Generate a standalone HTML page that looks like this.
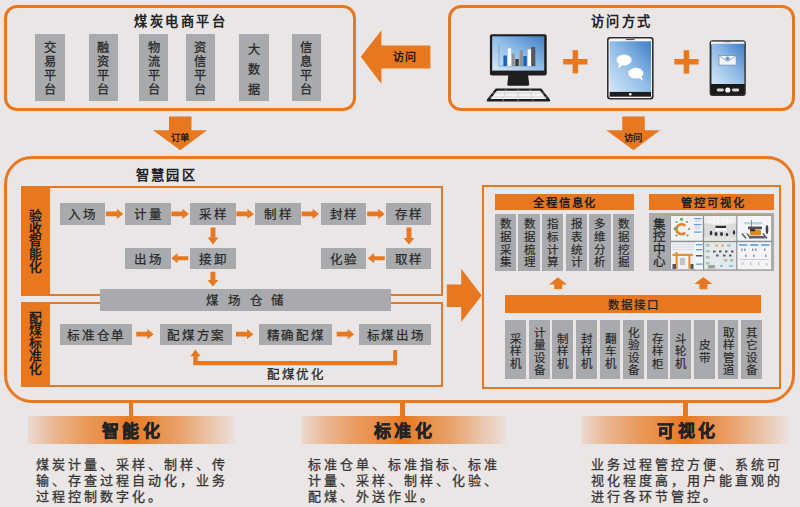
<!DOCTYPE html>
<html lang="zh-CN">
<head>
<meta charset="utf-8">
<style>
html,body{margin:0;padding:0;}
body{width:800px;height:507px;overflow:hidden;background:#ebe6e6;font-family:"Liberation Sans",sans-serif;color:#2a2a2a;position:relative;}
.a{position:absolute;box-sizing:border-box;}
.ob{position:absolute;box-sizing:border-box;border:3.5px solid #e8781f;}
.sb{position:absolute;box-sizing:border-box;border:2.5px solid #e8781f;}
.g{position:absolute;background:#a9aaad;}
.og{position:absolute;background:#e8781f;}
.vt{position:absolute;-webkit-text-stroke:0.2px #2a2a2a;text-align:center;font-size:13px;line-height:14px;color:#2a2a2a;}
.fb{position:absolute;-webkit-text-stroke:0.25px #2a2a2a;box-sizing:border-box;background:#a9aaad;text-align:center;font-size:12.5px;letter-spacing:1.8px;padding-left:1.8px;color:#2a2a2a;}
.fb4{letter-spacing:1.8px;padding-left:1.8px;}
.tt{position:absolute;font-size:13.2px;font-weight:bold;letter-spacing:2.6px;line-height:16px;color:#222;white-space:nowrap;}
svg{position:absolute;left:0;top:0;}
.ban{position:absolute;height:27.5px;background:linear-gradient(90deg,rgba(232,120,31,0.1) 0%,rgba(232,120,31,0.42) 12%,rgba(232,120,31,0.7) 28%,rgba(232,120,31,0.85) 42%,rgba(232,120,31,1) 50%,rgba(232,120,31,0.85) 58%,rgba(232,120,31,0.6) 74%,rgba(232,120,31,0.3) 88%,rgba(232,120,31,0.05) 100%);}
.bt{position:absolute;-webkit-text-stroke:0.5px #222;font-size:17px;font-weight:bold;letter-spacing:3.5px;line-height:20px;color:#222;white-space:nowrap;}
.desc{position:absolute;-webkit-text-stroke:0.3px #363636;font-size:13px;letter-spacing:3.05px;line-height:15.8px;color:#363636;white-space:nowrap;}
</style>
</head>
<body>

<!-- Box 1: 煤炭电商平台 -->
<div class="ob" style="left:4px;top:4.5px;width:351.5px;height:106.5px;border-radius:13px;"></div>
<div class="tt" style="left:134px;top:14px;">煤炭电商平台</div>
<div class="g" style="left:35.4px;top:33.75px;width:29.2px;height:67.4px;"></div>
<div class="g" style="left:88.5px;top:33.75px;width:29px;height:67.4px;"></div>
<div class="g" style="left:139.4px;top:33.75px;width:29px;height:67.4px;"></div>
<div class="g" style="left:185.8px;top:33.75px;width:29.2px;height:67.4px;"></div>
<div class="g" style="left:239.3px;top:33.75px;width:29.4px;height:67.4px;"></div>
<div class="g" style="left:291.8px;top:33.75px;width:29.2px;height:67.4px;"></div>
<div class="vt" style="left:35.4px;top:40.7px;width:29.2px;font-size:12.2px;line-height:14.2px;-webkit-text-stroke:0.3px #2a2a2a;">交<br>易<br>平<br>台</div>
<div class="vt" style="left:88.5px;top:40.7px;width:29px;font-size:12.2px;line-height:14.2px;-webkit-text-stroke:0.3px #2a2a2a;">融<br>资<br>平<br>台</div>
<div class="vt" style="left:139.4px;top:40.7px;width:29px;font-size:12.2px;line-height:14.2px;-webkit-text-stroke:0.3px #2a2a2a;">物<br>流<br>平<br>台</div>
<div class="vt" style="left:185.8px;top:40.7px;width:29.2px;font-size:12.2px;line-height:14.2px;-webkit-text-stroke:0.3px #2a2a2a;">资<br>信<br>平<br>台</div>
<div class="vt" style="left:239.3px;top:40px;width:29.4px;font-size:12.2px;line-height:20px;-webkit-text-stroke:0.3px #2a2a2a;">大<br>数<br>据</div>
<div class="vt" style="left:291.8px;top:40.7px;width:29.2px;font-size:12.2px;line-height:14.2px;-webkit-text-stroke:0.3px #2a2a2a;">信<br>息<br>平<br>台</div>

<!-- Box 2: 访问方式 -->
<div class="ob" style="left:448.4px;top:4.5px;width:347.1px;height:106.5px;border-radius:13px;"></div>
<div class="tt" style="left:591px;top:14px;letter-spacing:2.3px;">访问方式</div>

<!-- arrows & icons SVG layer -->
<svg width="800" height="507" viewBox="0 0 800 507">
  <!-- left arrow 访问 -->
  <polygon fill="#e8781f" points="360.8,56.8 381.4,30.3 381.4,45.4 430.4,45.4 430.4,68.6 381.4,68.6 381.4,84"/>
  <!-- down arrow 订单 -->
  <polygon fill="#e8781f" points="169,116.5 191.5,116.5 191.5,130.25 207,130.25 180.25,150.25 153,130.25 169,130.25"/>
  <!-- down arrow 访问 -->
  <polygon fill="#e8781f" points="622.25,116.5 644.75,116.5 644.75,130.25 660,130.25 633.5,150.25 606.25,130.25 622.25,130.25"/>
  <!-- plus signs -->
  <rect fill="#e8781f" x="563.2" y="59" width="24.3" height="5.5"/>
  <rect fill="#e8781f" x="572.6" y="50.2" width="5.5" height="23.1"/>
  <rect fill="#e8781f" x="674.3" y="59" width="24.3" height="5.5"/>
  <rect fill="#e8781f" x="683.7" y="50.2" width="5.5" height="23.4"/>
</svg>

<div class="a" style="left:392.5px;top:50px;font-size:11px;font-weight:bold;line-height:14px;color:#2a1a10;letter-spacing:1.2px;">访问</div>
<div class="a" style="left:171px;top:132.3px;font-size:9.4px;font-weight:bold;line-height:12px;color:#2a1a10;letter-spacing:0px;">订单</div>
<div class="a" style="left:624px;top:132.3px;font-size:9.4px;font-weight:bold;line-height:12px;color:#2a1a10;letter-spacing:0px;">访问</div>


<!-- icons -->
<svg width="800" height="507" viewBox="0 0 800 507">
  <defs>
    <linearGradient id="scr" x1="0" y1="1" x2="1" y2="0">
      <stop offset="0" stop-color="#d6e8f7"/>
      <stop offset="0.55" stop-color="#8ab8e6"/>
      <stop offset="1" stop-color="#3f7dc4"/>
    </linearGradient>
  </defs>
  <!-- monitor -->
  <rect x="489.9" y="34.2" width="56.8" height="41.2" rx="2" fill="#1e1e1e"/>
  <rect x="492.2" y="36.3" width="52" height="34.3" fill="url(#scr)"/>
  <path d="M508.4,75 L528,75 L529.2,84 Q529.3,85.8 527.5,85.8 L509,85.8 Q507.2,85.8 507.3,84 Z" fill="#1e1e1e"/>
  <line x1="499" y1="45" x2="499" y2="66" stroke="#7a8fa8" stroke-width="0.6"/>
  <line x1="499" y1="66" x2="537" y2="66" stroke="#7a8fa8" stroke-width="0.6"/>
  <rect x="503.4" y="55.5" width="3.5" height="10.5" fill="#1a66b3"/>
  <rect x="507.8" y="48.4" width="3.4" height="17.6" fill="#ffffff"/>
  <rect x="511.7" y="53.7" width="3" height="12.3" fill="#8f9297"/>
  <rect x="515.3" y="59" width="3.5" height="7" fill="#3d4045"/>
  <rect x="519.7" y="50.2" width="3.2" height="15.8" fill="#8f9297"/>
  <rect x="523.3" y="56" width="3.5" height="10" fill="#1a66b3"/>
  <rect x="527.7" y="49.3" width="3.5" height="16.7" fill="#ffffff"/>
  <rect x="531.2" y="47" width="4.1" height="19" fill="#55585d"/>
  <polygon points="496.4,89.6 540.6,89.6 549,100.3 487.9,100.3" fill="#f4f4f4" stroke="#1e1e1e" stroke-width="2.4" stroke-linejoin="round"/>
  <g stroke="#b9bcc0" stroke-width="0.6">
    <line x1="492" y1="93" x2="545" y2="93"/><line x1="490" y1="97" x2="547" y2="97"/>
    <line x1="506" y1="89" x2="503" y2="101"/><line x1="518" y1="89" x2="518" y2="101"/><line x1="530" y1="89" x2="533" y2="101"/>
  </g>
  <!-- tablet -->
  <rect x="607" y="37" width="46.6" height="62.5" rx="3" fill="#2e2e2e"/>
  <rect x="608.6" y="38.6" width="43.4" height="59.3" rx="1.8" fill="#f7f7f7"/>
  <rect x="609.6" y="41.3" width="41.4" height="50.6" fill="url(#scr)"/>
  <rect x="609.6" y="91.9" width="41.4" height="4.8" fill="#1e1e1e"/>
  <circle cx="630.3" cy="94.3" r="1.3" fill="#fff"/>
  <rect x="626" y="38.9" width="8.5" height="1.2" fill="#555"/>
  <ellipse cx="624.1" cy="60" rx="7.6" ry="5.4" fill="#fff"/>
  <polygon points="619,63.5 623.5,64.8 618,68.2" fill="#fff"/>
  <ellipse cx="635.8" cy="73.2" rx="7.6" ry="5.4" fill="#fff"/>
  <polygon points="637.5,77 641.5,76.3 643,81" fill="#fff"/>
  <!-- phone -->
  <rect x="709.6" y="40.2" width="36.2" height="55.7" rx="3" fill="#2e2e2e"/>
  <rect x="711" y="41.6" width="33.4" height="3" fill="#f2f2f2"/>
  <rect x="711.5" y="43.8" width="32.9" height="40.2" fill="url(#scr)"/>
  <rect x="711" y="84" width="33.4" height="10.5" fill="#1a1a1a"/>
  <rect x="716.7" y="88.6" width="7.1" height="2.8" rx="1.4" fill="#d8d8d8"/>
  <rect x="732" y="88.6" width="7.2" height="2.8" rx="1.4" fill="#d8d8d8"/>
  <circle cx="727.8" cy="90" r="2.6" fill="#fff"/>
  <rect x="724" y="41.2" width="7" height="1" fill="#666"/>
  <rect x="719" y="55.6" width="17.1" height="9.5" fill="#f4f6f8" stroke="#6f8aa6" stroke-width="0.7"/>
  <polyline points="719.3,55.9 727.5,61.5 735.8,55.9" fill="none" stroke="#6f8aa6" stroke-width="0.7"/>
  <circle cx="727.5" cy="58.5" r="2" fill="#5a9bd8"/>
</svg>

<!-- Big box 智慧园区 -->
<div class="ob" style="left:3.5px;top:156px;width:791.5px;height:247px;border-radius:28px;"></div>
<div class="tt" style="left:136px;top:168px;letter-spacing:2.2px;">智慧园区</div>

<!-- sub box 1 -->
<div class="sb" style="left:21.3px;top:186.3px;width:422.1px;height:109.5px;"></div>
<div class="og" style="left:21.3px;top:186.3px;width:28.9px;height:109.5px;"></div>
<div class="vt" style="left:21.3px;top:209.8px;width:28.9px;font-weight:bold;font-size:12.8px;line-height:12.75px;-webkit-text-stroke:0;color:#1e1e1e;">验<br>收<br>智<br>能<br>化</div>
<!-- sub box 2 -->
<div class="sb" style="left:21.3px;top:302px;width:422.1px;height:85px;"></div>
<div class="og" style="left:21.3px;top:302px;width:28.9px;height:85px;"></div>
<div class="vt" style="left:21.3px;top:311.6px;width:28.9px;font-weight:bold;font-size:12.8px;line-height:12.75px;-webkit-text-stroke:0;color:#1e1e1e;">配<br>煤<br>标<br>准<br>化</div>

<!-- flow row 1 -->
<div class="fb" style="left:59.5px;top:203px;width:45.5px;height:21.5px;line-height:24.9px;">入场</div>
<div class="fb" style="left:125px;top:203px;width:45.5px;height:21.5px;line-height:24.9px;">计量</div>
<div class="fb" style="left:190px;top:203px;width:45.5px;height:21.5px;line-height:24.9px;">采样</div>
<div class="fb" style="left:255.2px;top:203px;width:45.5px;height:21.5px;line-height:24.9px;">制样</div>
<div class="fb" style="left:320.8px;top:203px;width:45.5px;height:21.5px;line-height:24.9px;">封样</div>
<div class="fb" style="left:385.7px;top:203px;width:45.5px;height:21.5px;line-height:24.9px;">存样</div>
<div class="fb" style="left:125px;top:247.5px;width:45.5px;height:21.3px;line-height:24.7px;">出场</div>
<div class="fb" style="left:190px;top:247.5px;width:45.5px;height:21.3px;line-height:24.7px;">接卸</div>
<div class="fb" style="left:320.8px;top:247.5px;width:45.5px;height:21.3px;line-height:24.7px;">化验</div>
<div class="fb" style="left:385.7px;top:247.5px;width:45.5px;height:21.3px;line-height:24.7px;">取样</div>
<div class="fb" style="left:100.25px;top:289.4px;width:290.35px;height:21.2px;line-height:24.6px;letter-spacing:8.6px;padding-left:106.2px;text-align:left;">煤场仓储</div>

<!-- flow row 3 -->
<div class="fb fb4" style="left:59.5px;top:323.5px;width:72.5px;height:21.5px;line-height:24.9px;">标准仓单</div>
<div class="fb fb4" style="left:159.5px;top:323.5px;width:72.5px;height:21.5px;line-height:24.9px;">配煤方案</div>
<div class="fb fb4" style="left:258.9px;top:323.5px;width:72.9px;height:21.5px;line-height:24.9px;">精确配煤</div>
<div class="fb fb4" style="left:359.3px;top:323.5px;width:72px;height:21.5px;line-height:24.9px;">标煤出场</div>
<div class="a" style="left:267px;top:366.5px;font-size:12.5px;line-height:16px;letter-spacing:1.7px;color:#2a2a2a;-webkit-text-stroke:0.3px #2a2a2a;">配煤优化</div>

<!-- right sub box -->
<div class="a" style="left:482.3px;top:184.8px;width:299.2px;height:203.9px;border:2.8px solid #e8781f;"></div>
<div class="og" style="left:494.7px;top:193.7px;width:138.9px;height:16.7px;"></div>
<div class="tt" style="left:494.7px;top:195px;width:138.9px;text-align:center;font-size:11.3px;letter-spacing:1.9px;padding-left:1.9px;box-sizing:border-box;color:#1e1e1e;">全程信息化</div>
<div class="og" style="left:649.4px;top:193.7px;width:124.5px;height:16.7px;"></div>
<div class="tt" style="left:650.2px;top:195px;width:124.5px;text-align:center;font-size:11.3px;letter-spacing:1.9px;padding-left:1.9px;box-sizing:border-box;color:#1e1e1e;">管控可视化</div>
<div class="og" style="left:504.6px;top:295.3px;width:256.8px;height:18.1px;"></div>
<div class="a" style="left:504.6px;top:296.5px;width:256.8px;text-align:center;font-size:11.5px;line-height:17px;letter-spacing:2px;padding-left:2px;-webkit-text-stroke:0.25px #1e1e1e;color:#1e1e1e;">数据接口</div>
<div class="g" style="left:494.7px;top:213.8px;width:21.5px;height:57.1px;"></div>
<div class="vt" style="left:494.7px;top:218px;width:21.5px;font-size:11.5px;line-height:12.8px;">数<br>据<br>采<br>集</div>
<div class="g" style="left:518.3px;top:213.8px;width:21.5px;height:57.1px;"></div>
<div class="vt" style="left:518.3px;top:218px;width:21.5px;font-size:11.5px;line-height:12.8px;">数<br>据<br>梳<br>理</div>
<div class="g" style="left:541.9px;top:213.8px;width:21.5px;height:57.1px;"></div>
<div class="vt" style="left:541.9px;top:218px;width:21.5px;font-size:11.5px;line-height:12.8px;">指<br>标<br>计<br>算</div>
<div class="g" style="left:565.5px;top:213.8px;width:21.5px;height:57.1px;"></div>
<div class="vt" style="left:565.5px;top:218px;width:21.5px;font-size:11.5px;line-height:12.8px;">报<br>表<br>统<br>计</div>
<div class="g" style="left:589.1px;top:213.8px;width:21.5px;height:57.1px;"></div>
<div class="vt" style="left:589.1px;top:218px;width:21.5px;font-size:11.5px;line-height:12.8px;">多<br>维<br>分<br>析</div>
<div class="g" style="left:612.7px;top:213.8px;width:21.5px;height:57.1px;"></div>
<div class="vt" style="left:612.7px;top:218px;width:21.5px;font-size:11.5px;line-height:12.8px;">数<br>据<br>挖<br>掘</div>
<div class="g" style="left:649.4px;top:213.1px;width:124.5px;height:58px;"></div>
<div class="vt" style="left:649.4px;top:218.5px;width:20.8px;line-height:12.5px;font-size:12.5px;-webkit-text-stroke:0.3px #2a2a2a;">集<br>控<br>中<br>心</div>
<div class="g" style="left:505.20px;top:320.4px;width:20.8px;height:58.8px;"></div>
<div class="vt" style="left:505.20px;top:332.75px;width:20.8px;font-size:11.5px;line-height:12.5px;">采<br>样<br>机</div>
<div class="g" style="left:528.81px;top:320.4px;width:20.8px;height:58.8px;"></div>
<div class="vt" style="left:528.81px;top:326.50px;width:20.8px;font-size:11.5px;line-height:12.5px;">计<br>量<br>设<br>备</div>
<div class="g" style="left:552.42px;top:320.4px;width:20.8px;height:58.8px;"></div>
<div class="vt" style="left:552.42px;top:332.75px;width:20.8px;font-size:11.5px;line-height:12.5px;">制<br>样<br>机</div>
<div class="g" style="left:576.03px;top:320.4px;width:20.8px;height:58.8px;"></div>
<div class="vt" style="left:576.03px;top:332.75px;width:20.8px;font-size:11.5px;line-height:12.5px;">封<br>样<br>机</div>
<div class="g" style="left:599.64px;top:320.4px;width:20.8px;height:58.8px;"></div>
<div class="vt" style="left:599.64px;top:332.75px;width:20.8px;font-size:11.5px;line-height:12.5px;">翻<br>车<br>机</div>
<div class="g" style="left:623.25px;top:320.4px;width:20.8px;height:58.8px;"></div>
<div class="vt" style="left:623.25px;top:326.50px;width:20.8px;font-size:11.5px;line-height:12.5px;">化<br>验<br>设<br>备</div>
<div class="g" style="left:646.86px;top:320.4px;width:20.8px;height:58.8px;"></div>
<div class="vt" style="left:646.86px;top:332.75px;width:20.8px;font-size:11.5px;line-height:12.5px;">存<br>样<br>柜</div>
<div class="g" style="left:670.47px;top:320.4px;width:20.8px;height:58.8px;"></div>
<div class="vt" style="left:670.47px;top:332.75px;width:20.8px;font-size:11.5px;line-height:12.5px;">斗<br>轮<br>机</div>
<div class="g" style="left:694.08px;top:320.4px;width:20.8px;height:58.8px;"></div>
<div class="vt" style="left:694.08px;top:339.00px;width:20.8px;font-size:11.5px;line-height:12.5px;">皮<br>带</div>
<div class="g" style="left:717.69px;top:320.4px;width:20.8px;height:58.8px;"></div>
<div class="vt" style="left:717.69px;top:326.50px;width:20.8px;font-size:11.5px;line-height:12.5px;">取<br>样<br>管<br>道</div>
<div class="g" style="left:741.30px;top:320.4px;width:20.8px;height:58.8px;"></div>
<div class="vt" style="left:741.30px;top:326.50px;width:20.8px;font-size:11.5px;line-height:12.5px;">其<br>它<br>设<br>备</div>

<svg width="800" height="507" viewBox="0 0 800 507">
  <!-- big right arrow -->
  <polygon fill="#e8781f" points="446.8,284.5 461.2,284.5 461.2,268.7 481.7,295.4 461.2,322 461.2,307 446.8,307"/>
  <!-- small up arrows -->
  <polygon fill="#e8781f" points="557.9,277.3 567,284.4 562.2,284.4 562.2,289 554.2,289 554.2,284.4 549,284.4"/>
  <polygon fill="#e8781f" points="703.4,277 712.4,284.1 707.4,284.1 707.4,289.3 699.4,289.3 699.4,284.1 694.4,284.1"/>
</svg>
<svg width="800" height="507" viewBox="0 0 800 507">
<polygon fill="#e8781f" points="105.90,211.50 116.90,211.50 116.90,208.75 123.40,213.90 116.90,219.05 116.90,216.30 105.90,216.30"/>
<polygon fill="#e8781f" points="171.40,211.50 182.40,211.50 182.40,208.75 188.90,213.90 182.40,219.05 182.40,216.30 171.40,216.30"/>
<polygon fill="#e8781f" points="236.40,211.50 247.40,211.50 247.40,208.75 253.90,213.90 247.40,219.05 247.40,216.30 236.40,216.30"/>
<polygon fill="#e8781f" points="301.60,211.50 312.60,211.50 312.60,208.75 319.10,213.90 312.60,219.05 312.60,216.30 301.60,216.30"/>
<polygon fill="#e8781f" points="367.20,211.50 378.20,211.50 378.20,208.75 384.70,213.90 378.20,219.05 378.20,216.30 367.20,216.30"/>
<polygon fill="#e8781f" points="136.25,331.80 147.25,331.80 147.25,329.05 153.75,334.20 147.25,339.35 147.25,336.60 136.25,336.60"/>
<polygon fill="#e8781f" points="236.00,331.80 247.00,331.80 247.00,329.05 253.50,334.20 247.00,339.35 247.00,336.60 236.00,336.60"/>
<polygon fill="#e8781f" points="336.70,331.80 347.70,331.80 347.70,329.05 354.20,334.20 347.70,339.35 347.70,336.60 336.70,336.60"/>
<polygon fill="#e8781f" points="188.30,256.20 177.60,256.20 177.60,253.05 171.30,258.20 177.60,263.35 177.60,260.20 188.30,260.20"/>
<polygon fill="#e8781f" points="384.80,256.20 374.10,256.20 374.10,253.05 367.80,258.20 374.10,263.35 374.10,260.20 384.80,260.20"/>
<polygon fill="#e8781f" points="210.55,227.40 215.45,227.40 215.45,237.50 218.40,237.50 213.00,244.40 207.60,237.50 210.55,237.50"/>
<polygon fill="#e8781f" points="406.55,227.60 411.45,227.60 411.45,237.90 414.40,237.90 409.00,244.40 403.60,237.90 406.55,237.90"/>
<polygon fill="#e8781f" points="210.45,271.80 215.35,271.80 215.35,280.00 218.30,280.00 212.90,286.60 207.50,280.00 210.45,280.00"/>
<polygon fill="#e8781f" points="195.3,349.4 200.7,356.3 197.8,356.3 197.8,360.9 393.2,360.9 393.2,349.9 397.1,349.9 397.1,365.3 193.3,365.3 193.3,356.3 190.4,356.3"/>
</svg>

<!-- bottom section -->
<div class="og" style="left:128.6px;top:402px;width:4.6px;height:15px;"></div>
<div class="og" style="left:400.4px;top:402px;width:5px;height:15px;"></div>
<div class="og" style="left:683px;top:402px;width:4.6px;height:15px;"></div>
<div class="ban" style="left:27.5px;top:416.2px;width:207px;"></div>
<div class="ban" style="left:300.5px;top:416.2px;width:205.5px;"></div>
<div class="ban" style="left:581px;top:416.2px;width:207px;"></div>
<div class="bt" style="left:101.7px;top:422px;">智能化</div>
<div class="bt" style="left:373.7px;top:422px;">标准化</div>
<div class="bt" style="left:657.2px;top:422px;">可视化</div>
<div class="desc" style="left:35.5px;top:457px;">煤炭计量、采样、制样、传<br>输、存查过程自动化，业务<br>过程控制数字化。</div>
<div class="desc" style="left:307.8px;top:457px;">标准仓单、标准指标、标准<br>计量、采样、制样、化验、<br>配煤、外送作业。</div>
<div class="desc" style="left:590.8px;top:457px;">业务过程管控方便、系统可<br>视化程度高，用户能直观的<br>进行各环节管控。</div>

<!-- thumbnails -->
<svg width="800" height="507" viewBox="0 0 800 507">
  <defs><filter id="bl" x="-5%" y="-5%" width="110%" height="110%"><feGaussianBlur stdDeviation="0.35"/></filter></defs>
  <rect x="670.5" y="215.5" width="101.1" height="54.3" fill="#8e8f93"/>
  <g filter="url(#bl)">
  <!-- t1 -->
  <rect x="671" y="216" width="31.8" height="24.7" fill="#f1f2f2"/>
  <path d="M685.2,225.8 A5,5 0 1 0 685.2,232.6" fill="none" stroke="#e0822a" stroke-width="2.6"/>
  <circle cx="681.5" cy="219.3" r="1.5" fill="#52b050"/><circle cx="675" cy="228.8" r="1.5" fill="#52b050"/>
  <circle cx="676.5" cy="222" r="1.1" fill="#8a8a8a"/><circle cx="687" cy="222" r="1.1" fill="#8a8a8a"/>
  <circle cx="689" cy="229" r="1.1" fill="#8a8a8a"/><circle cx="676.5" cy="235.5" r="1.1" fill="#8a8a8a"/><circle cx="687.5" cy="235.5" r="1.1" fill="#8a8a8a"/>
  <rect x="694" y="218" width="7.5" height="1.2" fill="#5e9fdc"/><rect x="694" y="224" width="7.5" height="1.2" fill="#5e9fdc"/><rect x="694" y="231.5" width="7.5" height="1.2" fill="#5e9fdc"/>
  <rect x="695" y="220" width="5" height="2.5" fill="#dde"/><rect x="695" y="226" width="5" height="3.5" fill="#dde"/>
  <!-- t2 -->
  <rect x="704.2" y="216" width="32" height="24.7" fill="#d9dbdc"/>
  <path d="M704.2,216 H736.2 V223 Q720.2,227 704.2,223 Z" fill="#eceeef"/>
  <g stroke="#ffffff" stroke-width="0.9"><line x1="708" y1="216.5" x2="712" y2="222.5"/><line x1="713" y1="216.5" x2="715.5" y2="223"/><line x1="718" y1="216.5" x2="719" y2="223.5"/><line x1="723" y1="216.5" x2="722.5" y2="223.5"/><line x1="728" y1="216.5" x2="726" y2="223"/><line x1="733" y1="216.5" x2="729.5" y2="222.5"/></g>
  <rect x="715.5" y="225.8" width="10.5" height="2.2" fill="#2e2e2e"/>
  <rect x="715.5" y="228" width="10.5" height="3" fill="#f4f4f4"/>
  <ellipse cx="711" cy="233" rx="1.3" ry="2.2" fill="#333"/><ellipse cx="716" cy="234" rx="1.5" ry="2" fill="#333"/><ellipse cx="721.5" cy="234" rx="1.5" ry="2" fill="#333"/><ellipse cx="727" cy="234.5" rx="1.3" ry="1.6" fill="#333"/><ellipse cx="734" cy="232.5" rx="1.2" ry="2.2" fill="#333"/>
  <rect x="704.2" y="237" width="32" height="3.7" fill="#e6e4df"/>
  <!-- t3 -->
  <rect x="737.4" y="216" width="33.8" height="24.7" fill="#f4f5f6"/>
  <rect x="744.2" y="222" width="18" height="2.3" fill="#b8d4e4"/>
  <rect x="751" y="220" width="0.8" height="8" fill="#777"/>
  <rect x="748" y="226.6" width="14" height="2.6" fill="#4a4d55"/>
  <rect x="750" y="229.5" width="11" height="6" rx="1.5" fill="#e08a22"/>
  <rect x="750" y="229.2" width="5" height="2" fill="#222"/>
  <g stroke="#5a6070" stroke-width="1.6"><line x1="742" y1="233.5" x2="746" y2="238.5"/><line x1="747" y1="233.5" x2="751" y2="238.5"/><line x1="763" y1="233.5" x2="767" y2="238.5"/></g>
  <rect x="749" y="236" width="16" height="2.5" fill="#5a6070"/>
  <ellipse cx="767" cy="229.5" rx="1.3" ry="4.5" fill="#3a4050"/>
  <!-- t4 -->
  <rect x="671" y="242.2" width="31.8" height="27.2" fill="#eff1f2"/>
  <g fill="#d8dbe0"><rect x="672" y="244" width="22" height="1"/><rect x="672" y="246.5" width="22" height="1"/><rect x="672" y="249" width="22" height="1"/></g>
  <rect x="672.5" y="253.8" width="20.3" height="2.2" fill="#e4902e"/>
  <rect x="675.6" y="252" width="2" height="16.6" fill="#e4902e"/><rect x="688.4" y="255" width="2" height="13.6" fill="#e4902e"/>
  <rect x="672.5" y="264" width="3.5" height="5" fill="#555"/><rect x="690.5" y="264" width="3" height="5" fill="#555"/>
  <rect x="680" y="258" width="5" height="7" fill="#c0c4ca"/>
  <rect x="695.5" y="242.2" width="7.3" height="27.2" fill="#f6f7f8"/>
  <rect x="696" y="244" width="6.5" height="1.3" fill="#5e9fdc"/><rect x="696" y="249" width="6.5" height="1.3" fill="#5e9fdc"/><rect x="696" y="255" width="6.5" height="1.5" fill="#3c5f8a"/><rect x="696" y="263.5" width="6.5" height="1.3" fill="#5e9fdc"/>
  <!-- t5 -->
  <rect x="704.2" y="242.2" width="32" height="27.2" fill="#e4eaea"/>
  <g fill="#a9bfb4"><rect x="706" y="244" width="3.5" height="2.5"/><rect x="706" y="250" width="3.5" height="2.5"/><rect x="706" y="256" width="3.5" height="2.5"/><rect x="706" y="262" width="3.5" height="2.5"/><rect x="724" y="259" width="3.5" height="2.5"/><rect x="730" y="259" width="3.5" height="2.5"/></g>
  <g fill="#555a62"><rect x="713" y="250.5" width="2.5" height="2"/><rect x="719" y="250.5" width="2.5" height="2"/><rect x="725" y="250.5" width="2.5" height="2"/><rect x="731" y="250.5" width="2.5" height="2"/><rect x="716" y="254.5" width="2.5" height="2"/><rect x="723" y="254.5" width="2.5" height="2"/><rect x="729" y="254.5" width="2.5" height="2"/></g>
  <g fill="#e8b070"><rect x="715" y="244.5" width="3" height="2"/><rect x="721" y="244.5" width="3" height="2"/></g>
  <g fill="#8cc0e0"><rect x="727" y="244.5" width="4" height="2"/><rect x="729" y="265" width="4" height="2"/><rect x="720" y="265" width="3" height="2"/></g>
  <rect x="708" y="265" width="7" height="3.5" fill="#9aa6a0"/>
  <!-- t6 -->
  <rect x="737.4" y="242.2" width="33.8" height="27.2" fill="#f3f4f5"/>
  <rect x="739" y="244" width="8.5" height="2" fill="#79afe0"/><rect x="750" y="244" width="8.5" height="2" fill="#79afe0"/><rect x="761" y="244" width="8.5" height="2" fill="#79afe0"/>
  <g fill="#9c9ea2"><rect x="741" y="248.5" width="1.6" height="2.5"/><rect x="744" y="248.5" width="1.6" height="2.5"/><rect x="752" y="248.5" width="1.6" height="2.5"/><rect x="755" y="248.5" width="1.6" height="2.5"/><rect x="764" y="248.5" width="1.6" height="2.5"/><rect x="745" y="254.5" width="1.6" height="2.5"/><rect x="753" y="254.5" width="1.6" height="2.5"/><rect x="765" y="254.5" width="1.6" height="2.5"/></g>
  <g fill="#c4c6ca"><rect x="740" y="259" width="29" height="0.8"/><rect x="742" y="262" width="1.5" height="3"/><rect x="750" y="262" width="1.5" height="3"/><rect x="758" y="262" width="1.5" height="3"/><rect x="766" y="263" width="1.5" height="3"/></g>
  </g>
</svg>
</body>
</html>
